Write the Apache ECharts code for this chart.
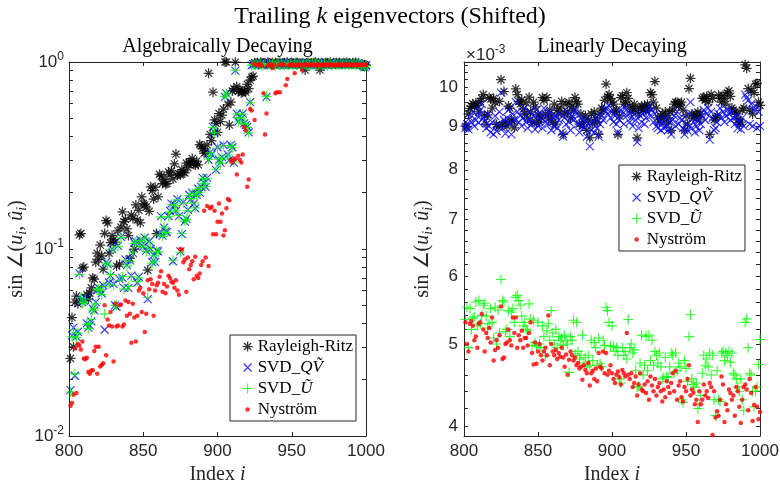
<!DOCTYPE html>
<html>
<head>
<meta charset="utf-8">
<script src="https://cdn.jsdelivr.net/npm/echarts@6.0.0/dist/echarts.min.js"></script>
<style>
html,body{margin:0;padding:0;background:#fff;}
#chart{width:780px;height:485px;}
</style>
</head>
<body>
<div id="chart"></div>
<script>
// ---------------- data ----------------
// x: eigenvector index i = 801..1000
const indexStart = 801, indexEnd = 1000;
const xTicks = [800, 850, 900, 950, 1000];

// Left panel: Algebraically Decaying, sin angle (log scale)
const algYLabels = [0.01, 0.1, 1];
const algYMinor = [0.02,0.03,0.04,0.05,0.06,0.07,0.08,0.09,0.2,0.3,0.4,0.5,0.6,0.7,0.8,0.9];
const algYRange = [0.01, 1];

const algRR = [
0.026,0.043,0.030,0.052,0.056,0.051,0.119,0.121,0.079,0.080,
0.055,0.057,0.054,0.058,0.062,0.070,0.069,0.085,0.095,0.088,
0.105,0.092,0.078,0.121,0.142,0.138,0.095,0.108,0.118,0.112,
0.109,0.081,0.125,0.083,0.131,0.158,0.140,0.144,0.128,0.118,
0.089,0.152,0.146,0.100,0.172,0.143,0.161,0.138,0.190,0.175,
0.172,0.168,0.077,0.159,0.215,0.205,0.185,0.214,0.121,0.190,
0.251,0.245,0.224,0.236,0.222,0.224,0.258,0.249,0.262,0.237,
0.285,0.322,0.248,0.252,0.249,0.266,0.258,0.255,0.288,0.272,
0.290,0.292,0.305,0.285,0.281,0.295,0.282,0.362,0.355,0.345,
0.325,0.330,0.360,0.870,0.410,0.380,0.690,0.490,0.470,0.420,
0.530,0.480,0.520,0.560,1.000,0.999,0.590,0.460,0.610,0.700,
0.720,0.998,0.740,0.695,0.710,0.685,0.690,0.700,0.690,0.760,
0.720,0.800,0.830,0.840,0.990,0.985,0.990,0.975,0.995,0.990,
0.985,0.992,0.978,0.996,0.988,0.981,0.994,0.975,0.990,0.985,
0.982,0.995,0.979,0.988,0.991,0.984,0.997,0.976,0.989,0.993,
0.986,0.980,0.995,0.990,0.983,0.978,0.992,0.985,0.905,0.988,
0.994,0.981,0.987,0.976,0.990,0.996,0.983,0.988,0.905,0.992,
0.985,0.979,0.993,0.987,0.982,0.996,0.977,0.989,0.984,0.991,
0.980,0.993,0.986,0.978,0.990,0.984,0.995,0.981,0.988,0.976,
0.990,0.983,0.994,0.979,0.987,0.965,0.972,0.960,0.968,0.962];

const algQV = [
0.0176,0.0345,0.038,0.021,0.034,0.036,0.074,0.054,0.052,0.053,
0.055,0.040,0.038,0.039,0.041,0.048,0.047,0.052,0.060,0.062,
0.061,0.058,0.064,0.037,0.085,0.083,0.066,0.072,0.100,0.065,
0.050,0.049,0.104,0.069,0.116,0.070,0.062,0.088,0.082,0.062,
0.087,0.072,0.095,0.108,0.110,0.066,0.071,0.112,0.105,0.103,
0.115,0.098,0.054,0.110,0.100,0.085,0.093,0.085,0.098,0.097,
0.120,0.150,0.118,0.130,0.124,0.123,0.150,0.160,0.175,0.086,
0.172,0.160,0.185,0.150,0.097,0.120,0.178,0.140,0.145,0.162,
0.195,0.185,0.200,0.175,0.165,0.195,0.210,0.200,0.215,0.240,
0.225,0.215,0.240,0.300,0.330,0.320,0.450,0.420,0.265,0.350,
0.300,0.290,0.310,0.360,0.650,0.680,0.320,0.300,0.360,0.350,
0.290,0.900,0.530,0.480,0.510,0.500,0.530,0.470,0.460,0.450,
0.420,0.610,0.960,0.975,0.970,0.980,0.965,0.985,0.975,0.960,
0.970,0.982,0.650,0.968,0.978,0.962,0.985,0.972,0.958,0.980,
0.975,0.965,0.988,0.970,0.960,0.982,0.974,0.966,0.979,0.971,
0.963,0.985,0.972,0.968,0.981,0.960,0.976,0.987,0.969,0.974,
0.982,0.965,0.971,0.984,0.962,0.977,0.989,0.968,0.973,0.980,
0.966,0.983,0.970,0.958,0.979,0.985,0.964,0.975,0.981,0.969,
0.974,0.962,0.986,0.971,0.977,0.965,0.983,0.970,0.968,0.979,
0.972,0.984,0.963,0.976,0.981,0.967,0.975,0.960,0.938,0.955];

const algU = [
0.0172,0.0340,0.037,0.0215,0.0335,0.0355,0.073,0.055,0.051,0.052,
0.054,0.0395,0.0375,0.040,0.042,0.047,0.048,0.051,0.061,0.061,
0.060,0.057,0.063,0.045,0.084,0.082,0.065,0.073,0.099,0.064,
0.050,0.050,0.103,0.068,0.115,0.071,0.061,0.087,0.081,0.063,
0.086,0.071,0.096,0.107,0.109,0.067,0.070,0.111,0.104,0.102,
0.114,0.097,0.055,0.109,0.101,0.084,0.092,0.086,0.097,0.096,
0.119,0.148,0.117,0.131,0.123,0.122,0.149,0.158,0.173,0.087,
0.170,0.161,0.183,0.151,0.096,0.121,0.176,0.141,0.144,0.160,
0.193,0.186,0.198,0.176,0.166,0.193,0.208,0.201,0.213,0.238,
0.223,0.216,0.238,0.302,0.327,0.318,0.446,0.418,0.267,0.347,
0.302,0.288,0.308,0.357,0.655,0.675,0.318,0.302,0.357,0.348,
0.292,0.905,0.527,0.478,0.505,0.497,0.527,0.468,0.462,0.447,
0.418,0.605,0.958,0.972,0.968,0.978,0.962,0.983,0.973,0.958,
0.968,0.980,0.655,0.966,0.976,0.960,0.983,0.970,0.956,0.978,
0.973,0.963,0.986,0.968,0.958,0.980,0.972,0.964,0.977,0.969,
0.961,0.983,0.970,0.966,0.979,0.958,0.974,0.985,0.967,0.972,
0.980,0.963,0.969,0.982,0.960,0.975,0.987,0.966,0.971,0.978,
0.964,0.981,0.968,0.956,0.977,0.983,0.962,0.973,0.979,0.967,
0.972,0.960,0.984,0.969,0.975,0.963,0.981,0.968,0.966,0.977,
0.970,0.982,0.961,0.974,0.979,0.965,0.973,0.958,0.936,0.953];

const algNys = [
0.0145,0.0150,0.0166,0.0295,0.0170,0.0310,0.0305,0.0290,0.0320,0.0260,
0.0257,0.0262,0.0220,0.0215,0.0224,0.0225,0.0285,0.0300,0.0215,0.0300,
0.0235,0.0240,0.0245,0.0500,0.0270,0.0420,0.0390,0.0460,0.0385,0.0250,
0.0510,0.0385,0.0390,0.0500,0.0505,0.0385,0.0395,0.0530,0.0440,0.0520,
0.0450,0.0315,0.0510,0.0430,0.0320,0.0440,0.0600,0.0620,0.0460,0.0580,
0.0360,0.0450,0.0680,0.0610,0.0690,0.0650,0.0440,0.0600,0.0640,0.0660,
0.0710,0.0760,0.0590,0.0650,0.0580,0.0630,0.0720,0.0700,0.0670,0.0660,
0.0620,0.0680,0.0600,0.0570,0.1000,0.0990,0.0850,0.0880,0.0590,0.0900,
0.0780,0.0820,0.0860,0.0690,0.0910,0.0720,0.0700,0.0740,0.0820,0.0860,
0.160,0.090,0.170,0.081,0.165,0.168,0.120,0.160,0.120,0.140,
0.175,0.140,0.155,0.118,0.126,0.165,0.185,0.182,0.300,0.290,
0.300,0.305,0.250,0.315,0.300,0.290,0.320,0.450,0.430,0.215,
0.235,0.560,0.550,0.980,0.490,0.965,0.970,0.960,0.975,0.955,
0.680,0.410,0.530,0.960,0.972,0.958,0.930,0.968,0.680,0.690,
0.965,0.690,0.975,0.962,0.970,0.750,0.810,0.958,0.968,0.975,
0.962,0.870,0.966,0.955,0.972,0.960,0.906,0.968,0.975,0.962,
0.958,0.970,0.965,0.975,0.960,0.968,0.955,0.972,0.963,0.958,
0.970,0.962,0.975,0.957,0.966,0.972,0.960,0.968,0.955,0.970,
0.963,0.975,0.958,0.969,0.962,0.972,0.960,0.966,0.974,0.958,
0.968,0.962,0.975,0.960,0.970,0.965,0.958,0.972,0.962,0.968];

// Right panel: Linearly Decaying, values in units of 1e-3 (log scale)
const linYLabels = [4, 5, 6, 7, 8, 9, 10];
const linYMinor = [4.2,4.4,4.6,4.8,5.2,5.4,5.6,5.8,6.2,6.4,6.6,6.8,7.2,7.4,7.6,7.8,8.2,8.4,8.6,8.8,9.2,9.4,9.6,9.8,10.2,10.4,10.6];
const linYRange = [3.9, 10.7];

const linRR = [
9.00,8.98,9.30,9.44,9.50,9.56,9.48,9.58,9.52,9.35,
9.62,9.70,9.80,9.25,9.05,9.28,9.72,9.68,9.45,9.70,
9.60,9.04,8.98,9.62,10.20,9.02,9.88,9.10,9.00,9.50,
9.45,9.15,9.12,8.96,9.95,9.80,9.62,9.55,9.66,9.42,
9.30,9.58,9.20,9.73,9.35,9.10,9.60,9.48,9.08,9.28,
9.10,9.22,9.72,9.65,9.30,9.72,9.18,9.40,9.25,9.10,
9.55,9.05,9.40,9.30,9.45,9.62,8.80,9.30,9.55,9.35,
9.60,9.20,9.50,9.40,9.72,9.62,9.55,9.05,9.30,9.00,
9.10,9.25,8.90,9.15,8.72,9.30,9.05,9.35,9.20,9.10,
8.80,9.30,9.45,9.40,9.65,10.08,9.75,9.80,9.70,9.60,
9.55,9.35,9.40,8.80,9.25,9.72,9.77,9.55,9.60,9.85,
9.70,9.50,9.35,9.45,9.55,9.40,8.72,9.30,9.45,9.50,
9.40,9.52,9.38,9.55,9.45,9.85,9.80,9.60,10.15,9.45,
9.20,9.10,9.25,9.30,9.18,9.35,9.05,9.20,9.35,8.90,
9.40,9.55,9.60,9.60,9.50,9.55,9.60,9.40,8.90,9.25,
9.05,9.96,10.24,9.30,9.20,9.25,9.28,9.35,9.15,9.30,
9.70,9.73,9.65,9.75,9.60,8.80,9.80,9.70,9.15,9.20,
9.25,9.78,9.70,9.60,9.78,9.70,9.55,9.85,9.90,9.75,
9.45,9.40,9.35,9.30,9.15,9.05,9.10,9.40,9.45,10.62,
10.52,9.96,9.40,9.90,9.30,9.85,10.08,10.10,9.60,9.52];

const linQV = [
8.95,9.05,8.92,9.20,9.10,9.35,9.00,9.15,9.25,9.08,
9.40,9.55,9.20,9.12,8.95,9.30,9.00,8.85,9.10,8.80,
9.25,8.88,9.05,9.35,9.85,8.95,9.15,8.82,9.20,9.40,
9.05,8.80,9.30,9.15,9.60,9.35,9.10,9.25,9.00,9.20,
9.45,9.10,8.95,9.35,9.15,9.05,9.25,8.92,9.40,9.00,
9.18,9.30,8.95,9.45,9.10,9.25,9.05,9.35,8.90,9.20,
9.00,9.25,8.95,9.15,9.30,8.85,8.75,9.20,9.05,9.35,
9.10,8.90,9.25,9.15,9.40,9.30,9.05,8.85,9.20,9.00,
8.95,9.15,8.75,9.05,8.52,8.90,9.10,8.85,9.20,8.95,
8.75,9.05,9.25,9.15,9.40,9.45,9.30,9.50,9.20,9.35,
9.10,9.25,9.05,8.85,9.15,9.40,9.30,9.05,9.45,9.25,
9.35,9.10,9.20,9.00,9.30,9.15,8.62,8.95,9.25,9.10,
9.30,9.05,9.20,9.35,9.50,9.25,9.40,9.10,9.30,9.00,
8.95,9.15,8.90,9.05,8.95,9.20,9.00,8.90,9.10,8.80,
9.15,9.25,9.00,9.35,9.05,9.20,9.15,8.95,8.80,9.05,
8.90,9.30,9.60,8.95,9.10,8.85,9.00,9.15,8.90,9.05,
9.25,9.40,9.15,9.30,9.45,8.68,9.35,9.20,8.90,8.95,
9.10,9.30,9.45,9.20,9.35,9.10,9.25,9.40,9.30,9.15,
9.35,9.20,9.05,9.25,8.95,9.10,8.92,9.20,9.00,9.80,
9.72,9.65,9.05,9.55,9.00,9.40,9.50,8.95,9.35,9.00];

const linU = [
5.34,5.52,4.95,5.50,5.20,5.36,5.38,5.60,5.25,5.62,
5.28,5.40,5.55,5.58,5.39,5.22,5.28,5.50,5.30,5.08,
5.52,5.00,5.48,5.15,5.95,5.62,5.60,5.17,5.20,5.47,
5.10,5.45,5.50,5.30,5.67,5.70,5.62,5.55,5.39,5.25,
5.30,5.20,5.18,5.57,5.35,4.98,5.33,5.02,4.97,5.30,
5.00,4.95,5.25,5.10,4.84,5.18,5.28,5.05,5.47,5.15,
5.00,5.20,4.95,5.10,5.05,5.08,4.98,5.12,5.04,5.00,
4.63,5.10,5.05,5.33,4.87,5.30,4.90,4.80,4.85,5.12,
4.75,4.82,4.70,4.85,4.72,5.05,4.78,5.02,4.95,4.72,
5.08,4.74,4.70,5.05,4.98,5.52,5.47,5.30,4.97,5.25,
4.97,4.90,4.95,4.85,4.55,4.50,4.95,4.85,4.90,4.80,
5.34,4.95,5.00,4.88,4.92,4.65,4.45,4.46,4.75,5.12,
4.60,4.72,5.10,4.65,5.12,4.78,5.05,4.72,4.90,4.85,
4.75,4.88,4.70,4.55,4.57,4.82,4.58,4.57,4.70,4.88,
4.85,4.62,4.88,4.65,4.75,4.70,4.30,4.27,4.78,4.68,
4.52,5.10,5.41,4.55,4.48,4.45,4.50,4.20,4.25,4.35,
4.62,4.85,4.72,4.80,4.70,4.88,4.60,4.85,4.30,4.12,
4.65,4.30,4.28,4.88,4.90,4.78,4.88,4.85,4.90,4.76,
4.88,4.62,4.60,4.55,4.45,4.40,4.55,4.30,4.18,5.30,
5.35,4.95,4.62,4.60,4.40,4.22,4.40,4.45,4.73,5.06];

const linNys = [
5.30,5.00,4.90,5.28,5.32,5.25,5.05,5.10,4.95,5.28,
5.30,5.42,5.20,4.90,5.15,5.08,5.22,5.02,5.37,4.78,
4.92,5.05,4.95,5.12,5.53,4.80,4.82,5.00,5.02,5.20,
5.05,4.98,5.37,5.15,5.37,4.95,5.12,5.05,5.18,4.95,
5.08,5.08,4.98,5.15,5.30,4.88,4.73,5.02,4.74,4.90,
5.00,4.85,4.78,4.90,4.95,4.85,5.40,4.72,5.00,4.90,
4.85,4.92,4.80,4.88,4.83,4.95,4.82,4.70,4.86,4.60,
4.79,4.90,4.85,4.78,4.82,4.72,4.75,4.68,4.70,4.54,
4.72,4.66,4.62,4.75,4.47,4.62,4.65,4.55,4.68,4.52,
4.88,4.70,4.68,4.90,4.62,4.88,4.60,4.65,4.72,4.62,
4.55,4.50,4.60,4.64,4.57,4.48,4.66,4.62,4.58,5.15,
4.60,4.55,4.62,4.45,4.50,4.58,4.35,4.48,4.62,4.42,
4.40,4.48,4.38,4.52,4.30,4.58,4.47,4.40,4.55,4.35,
4.45,4.50,4.40,4.28,4.42,4.33,4.52,4.45,4.38,4.50,
4.62,4.40,4.65,4.30,4.47,4.52,4.33,4.28,4.45,4.40,
4.55,4.72,4.35,4.42,4.38,4.25,4.30,4.05,4.40,4.25,
4.30,4.48,4.35,4.40,4.32,4.50,4.45,3.91,4.40,4.10,
4.17,4.12,4.30,4.58,4.48,4.05,4.25,4.18,4.42,4.38,
4.30,4.35,4.12,4.45,4.40,4.22,4.04,4.30,4.45,4.48,
4.42,4.18,4.55,4.38,4.06,4.24,4.45,4.22,4.08,4.16];

const seriesNames = ['Rayleigh-Ritz', 'SVD_QV', 'SVD_U', 'Nyström'];

// ---------------- styling ----------------
const SERIF = "'Liberation Serif', 'Times New Roman', serif";
const SANS = "'Liberation Sans', Arial, Helvetica, sans-serif";
const AX = '#262626';
const L = Math.log10;

const STAR = 'path://M5,0L5,10M0,5L10,5M1.46,1.46L8.54,8.54M8.54,1.46L1.46,8.54';
const CROSS = 'path://M0,0L10,10M10,0L0,10';
const PLUS = 'path://M5,0L5,10M0,5L10,5';
const DOT_ICON = 'path://M0,0M10,10M7.3,5A2.3,2.3,0,1,1,2.7,5A2.3,2.3,0,1,1,7.3,5Z';
const CROSS_ICON = 'path://M0,0M10,10M1,1L9,9M9,1L1,9';

const markerStyle = {
  'Rayleigh-Ritz': {symbol: STAR, symbolSize: 10, itemStyle: {color: 'rgba(0,0,0,0)', borderColor: '#000000', borderWidth: 1.25}},
  'SVD_QV': {symbol: CROSS, symbolSize: 8, itemStyle: {color: 'rgba(0,0,0,0)', borderColor: '#0000ff', borderWidth: 1.1}},
  'SVD_U': {symbol: PLUS, symbolSize: 10, itemStyle: {color: 'rgba(0,0,0,0)', borderColor: '#00ff00', borderWidth: 1.1}},
  'Nyström': {symbol: 'circle', symbolSize: 4.5, itemStyle: {color: '#ff0000', borderWidth: 0}}
};

const indices = [];
for (let i = indexStart; i <= indexEnd; i++) indices.push(i);

function pts(vals) { return vals.map((v, k) => [indices[k], L(v)]); }

function scatter(name, vals, axisIdx) {
  const st = markerStyle[name];
  return {
    type: 'scatter', name: name,
    xAxisIndex: axisIdx, yAxisIndex: axisIdx,
    data: pts(vals),
    symbol: st.symbol, symbolSize: st.symbolSize,
    itemStyle: st.itemStyle,
    silent: true, animation: false,
    emphasis: {disabled: true}
  };
}

const lineStyle = {color: AX, width: 1};

function xBottom(gi) {
  return {
    type: 'value', gridIndex: gi, position: 'bottom',
    min: xTicks[0], max: xTicks[xTicks.length - 1], interval: xTicks[1] - xTicks[0],
    axisLine: {show: true, onZero: false, lineStyle: lineStyle},
    axisTick: {show: true, inside: true, length: 4, lineStyle: lineStyle},
    axisLabel: {show: true, color: AX, fontFamily: SANS, fontSize: 17, margin: 7,
      formatter: v => String(v)},
    splitLine: {show: false},
    name: 'Index {it|i}', nameLocation: 'middle', nameGap: 27,
    nameTextStyle: {fontFamily: SERIF, fontSize: 20, color: AX,
      rich: {it: {fontFamily: SERIF, fontSize: 20, fontStyle: 'italic', color: AX}}}
  };
}
function xTop(gi, title) {
  return {
    type: 'value', gridIndex: gi, position: 'top',
    min: xTicks[0], max: xTicks[xTicks.length - 1], interval: xTicks[1] - xTicks[0],
    axisLine: {show: true, onZero: false, lineStyle: lineStyle},
    axisTick: {show: true, inside: true, length: 4, lineStyle: lineStyle},
    axisLabel: {show: false},
    splitLine: {show: false},
    name: title, nameLocation: 'middle', nameGap: 5,
    nameTextStyle: {fontFamily: SERIF, fontSize: 20, color: '#000'}
  };
}

const yName = '{r|sin ∠(}{it|u}{sub|i}{r|, }{it|û}{sub|i}{r|)}';
const yNameStyle = {
  fontFamily: SERIF, fontSize: 20, color: AX,
  rich: {
    r: {fontFamily: SERIF, fontSize: 20, color: AX, lineHeight: 24},
    it: {fontFamily: SERIF, fontSize: 20, fontStyle: 'italic', color: AX, lineHeight: 24},
    sub: {fontFamily: SERIF, fontSize: 14, fontStyle: 'italic', color: AX, lineHeight: 14, verticalAlign: 'bottom'}
  }
};
const supRich = {
  b: {fontFamily: SANS, fontSize: 17, color: AX, lineHeight: 23},
  s: {fontFamily: SANS, fontSize: 12, color: AX, lineHeight: 12, verticalAlign: 'top'}
};

const algTicksAll = algYLabels.concat(algYMinor).map(L);
const linTicksAll = linYLabels.concat(linYMinor).map(L);

const yAxes = [
  { // left panel, left side
    type: 'value', gridIndex: 0, position: 'left',
    min: L(algYRange[0]), max: L(algYRange[1]),
    axisLine: {show: true, onZero: false, lineStyle: lineStyle},
    axisTick: {show: true, inside: true, length: 4, lineStyle: lineStyle, customValues: algTicksAll},
    axisLabel: {show: true, margin: 5, customValues: algYLabels.map(L),
      formatter: v => '{b|10}{s|' + Math.round(v) + '}', rich: supRich},
    splitLine: {show: false},
    name: yName, nameLocation: 'middle', nameRotate: 90, nameGap: 40, nameTextStyle: yNameStyle
  },
  { // left panel, right side mirror
    type: 'value', gridIndex: 0, position: 'right',
    min: L(algYRange[0]), max: L(algYRange[1]),
    axisLine: {show: true, onZero: false, lineStyle: lineStyle},
    axisTick: {show: true, inside: true, length: 4, lineStyle: lineStyle, customValues: algTicksAll},
    axisLabel: {show: false},
    splitLine: {show: false}
  },
  { // right panel, left side
    type: 'value', gridIndex: 1, position: 'left',
    min: L(linYRange[0]), max: L(linYRange[1]),
    axisLine: {show: true, onZero: false, lineStyle: lineStyle},
    axisTick: {show: true, inside: true, length: 4, lineStyle: lineStyle, customValues: linTicksAll},
    axisLabel: {show: true, margin: 6, customValues: linYLabels.map(L),
      formatter: v => String(Math.round(Math.pow(10, v))), color: AX, fontFamily: SANS, fontSize: 17},
    splitLine: {show: false},
    name: yName, nameLocation: 'middle', nameRotate: 90, nameGap: 28, nameTextStyle: yNameStyle
  },
  { // right panel, right side mirror
    type: 'value', gridIndex: 1, position: 'right',
    min: L(linYRange[0]), max: L(linYRange[1]),
    axisLine: {show: true, onZero: false, lineStyle: lineStyle},
    axisTick: {show: true, inside: true, length: 4, lineStyle: lineStyle, customValues: linTicksAll},
    axisLabel: {show: false},
    splitLine: {show: false}
  }
];

const legendItems = [
  {name: 'Rayleigh-Ritz', icon: STAR, itemStyle: {color: 'rgba(0,0,0,0)', borderColor: '#000000', borderWidth: 1.25}},
  {name: 'SVD_QV', icon: CROSS_ICON, itemStyle: {color: 'rgba(0,0,0,0)', borderColor: '#0000ff', borderWidth: 1.1}},
  {name: 'SVD_U', icon: PLUS, itemStyle: {color: 'rgba(0,0,0,0)', borderColor: '#00ff00', borderWidth: 1.1}},
  {name: 'Nyström', icon: DOT_ICON, itemStyle: {color: '#ff0000', borderWidth: 0}}
];
const legendText = {
  'Rayleigh-Ritz': 'Rayleigh-Ritz',
  'SVD_QV': 'SVD_{it|Q\u1E7C}',
  'SVD_U': 'SVD_{it|\u0168}',
  'Nyström': 'Nyström'
};
function makeLegend(left, top) {
  return {
    orient: 'vertical', left: left, top: top,
    selectedMode: false,
    padding: [3, 3, 3, 12],
    itemGap: 4, itemWidth: 10, itemHeight: 10,
    backgroundColor: '#ffffff', borderColor: AX, borderWidth: 1, borderRadius: 0,
    textStyle: {fontFamily: SERIF, fontSize: 17, color: '#000', lineHeight: 16,
      rich: {it: {fontFamily: SERIF, fontSize: 17, fontStyle: 'italic', color: '#000', lineHeight: 16}}},
    formatter: name => legendText[name],
    data: legendItems
  };
}

const option = {
  animation: false,
  backgroundColor: '#ffffff',
  title: [
    {text: 'Trailing {it|k} eigenvectors (Shifted)', left: 'center', top: 5, padding: 0,
      textStyle: {fontFamily: SERIF, fontSize: 24, fontWeight: 'normal', color: '#000',
        rich: {it: {fontFamily: SERIF, fontSize: 24, fontStyle: 'italic', color: '#000'}}}},
    {text: '{b|×10}{s|-3}', left: 466, top: 44, padding: 0,
      textStyle: {fontFamily: SANS, fontSize: 17, fontWeight: 'normal', color: AX, rich: supRich}}
  ],
  legend: [makeLegend(230, 335), makeLegend(619, 165)],
  grid: [
    {left: 69, top: 62, width: 297, height: 374, containLabel: false, outerBoundsMode: 'none'},
    {left: 464, top: 62, width: 296, height: 374, containLabel: false, outerBoundsMode: 'none'}
  ],
  xAxis: [xBottom(0), xTop(0, 'Algebraically Decaying'), xBottom(1), xTop(1, 'Linearly Decaying')],
  yAxis: yAxes,
  series: [
    scatter(seriesNames[0], algRR, 0),
    scatter(seriesNames[1], algQV, 0),
    scatter(seriesNames[2], algU, 0),
    scatter(seriesNames[3], algNys, 0),
    scatter(seriesNames[0], linRR, 2),
    scatter(seriesNames[1], linQV, 2),
    scatter(seriesNames[2], linU, 2),
    scatter(seriesNames[3], linNys, 2)
  ]
};

const chart = echarts.init(document.getElementById('chart'), null, {renderer: 'canvas', width: 780, height: 485});
chart.setOption(option);
</script>
</body>
</html>
